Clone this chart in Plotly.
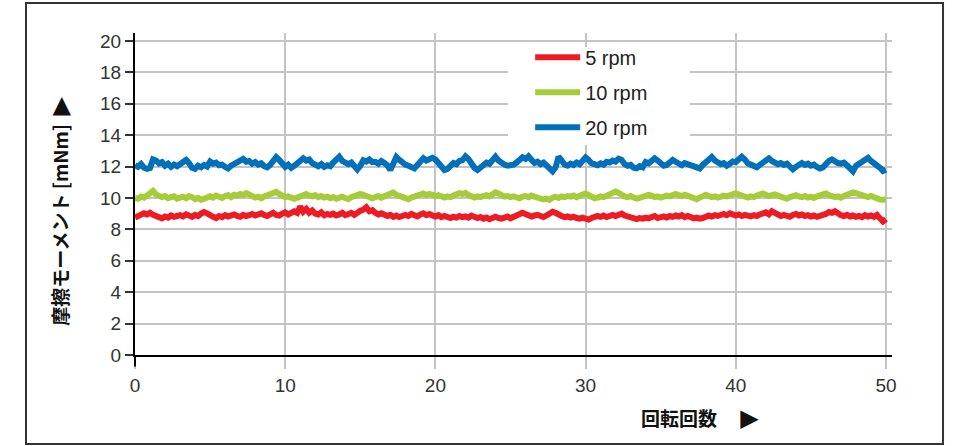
import numpy as np
import plotly.graph_objects as go

# Friction torque [mNm] sampled every 0.2 revolutions, 0 .. 50 rev
SAMPLE_STEP = 0.2

torque_5rpm = [
    8.75, 8.82, 8.90, 9.02, 8.95, 9.05, 8.92, 8.85, 8.78, 8.70,
    8.82, 8.75, 8.88, 8.80, 8.85, 8.90, 8.82, 8.95, 8.88, 8.80,
    8.92, 8.85, 9.00, 9.10, 9.02, 8.88, 8.80, 8.72, 8.85, 8.78,
    8.90, 8.82, 8.88, 8.95, 8.85, 8.80, 8.92, 8.85, 8.90, 8.98,
    8.88, 8.95, 9.02, 8.92, 8.85, 8.95, 9.05, 8.92, 8.88, 9.00,
    9.08, 8.95, 9.02, 9.15, 9.05, 9.45, 9.12, 9.30, 9.05, 9.20,
    9.00, 8.95, 9.08, 8.90, 8.98, 8.92, 9.00, 8.88, 8.95, 9.05,
    8.90, 8.98, 9.05, 8.92, 9.10, 9.18, 9.25, 9.40, 9.15, 9.22,
    9.05, 8.95, 9.02, 8.90, 8.85, 8.92, 8.80, 8.88, 8.78, 8.85,
    8.92, 8.85, 8.98, 8.90, 8.82, 8.95, 9.02, 8.90, 8.98, 8.88,
    8.82, 8.90, 8.78, 8.85, 8.80, 8.72, 8.80, 8.75, 8.85, 8.78,
    8.82, 8.75, 8.88, 8.80, 8.72, 8.78, 8.68, 8.75, 8.65, 8.72,
    8.80, 8.72, 8.68, 8.75, 8.82, 8.70, 8.78, 8.85, 8.95, 9.05,
    8.98, 8.90, 8.82, 8.88, 8.92, 8.85, 8.78, 8.88, 9.00, 9.12,
    9.05, 8.92, 8.85, 8.78, 8.82, 8.75, 8.80, 8.72, 8.68, 8.75,
    8.70, 8.62, 8.72, 8.78, 8.85, 8.80, 8.88, 8.78, 8.85, 8.92,
    8.85, 8.95, 9.00, 8.88, 8.82, 8.75, 8.70, 8.65, 8.72, 8.68,
    8.75, 8.70, 8.78, 8.85, 8.72, 8.78, 8.82, 8.75, 8.85, 8.80,
    8.88, 8.82, 8.90, 8.78, 8.85, 8.78, 8.70, 8.75, 8.68, 8.72,
    8.80, 8.88, 8.82, 8.90, 8.85, 8.92, 8.98, 8.90, 9.02, 8.95,
    8.88, 8.95, 8.85, 8.92, 8.88, 8.82, 8.90, 8.85, 8.95, 9.02,
    9.08, 8.95, 9.15, 9.05, 8.92, 8.85, 8.92, 8.88, 8.80, 8.92,
    8.98, 8.88, 8.95, 8.85, 8.90, 8.82, 8.88, 8.80, 8.85, 8.92,
    8.98, 9.10, 9.05, 9.15, 8.98, 8.90, 8.85, 8.92, 8.82, 8.88,
    8.80, 8.85, 8.78, 8.90, 8.82, 8.88, 8.80, 8.92, 8.70, 8.50,
    8.65,
]

torque_10rpm = [
    10.00, 9.95, 10.08, 10.02, 10.15, 10.35, 10.45, 10.22, 10.10, 10.05,
    10.12, 9.98, 10.05, 10.10, 9.95, 10.02, 10.08, 9.98, 10.12, 10.05,
    9.92, 10.00, 9.88, 9.95, 10.05, 10.10, 10.02, 10.15, 10.08, 10.00,
    10.12, 10.18, 10.05, 10.20, 10.15, 10.25, 10.18, 10.30, 10.22, 10.10,
    10.02, 10.08, 9.98, 10.10, 10.15, 10.22, 10.30, 10.38, 10.25, 10.12,
    10.05, 10.10, 9.98, 9.95, 10.02, 10.08, 10.18, 10.25, 10.15, 10.10,
    10.18, 10.05, 10.12, 10.02, 10.08, 9.98, 10.05, 9.95, 10.02, 10.08,
    10.00, 9.92, 10.05, 10.10, 10.18, 10.25, 10.20, 10.12, 10.05, 9.98,
    10.05, 10.12, 10.02, 10.10, 10.18, 10.28, 10.35, 10.20, 10.12, 10.05,
    9.98, 9.92, 10.02, 10.10, 10.15, 10.22, 10.28, 10.18, 10.25, 10.20,
    10.12, 10.18, 10.08, 10.02, 10.10, 10.05, 10.15, 10.22, 10.30, 10.25,
    10.32, 10.18, 10.08, 10.02, 10.10, 10.05, 10.12, 10.18, 10.10, 10.22,
    10.35, 10.28, 10.15, 10.08, 10.12, 10.05, 10.10, 10.02, 9.98, 10.08,
    10.12, 10.05, 10.15, 10.08, 10.02, 9.98, 9.90, 9.95, 9.88, 10.02,
    10.08, 10.00, 10.10, 10.05, 10.12, 10.08, 10.15, 10.05, 10.18, 10.22,
    10.28, 10.15, 10.05, 9.98, 10.02, 10.10, 10.05, 10.12, 10.20, 10.28,
    10.40, 10.32, 10.18, 10.10, 10.05, 10.12, 10.02, 9.95, 10.00, 10.08,
    10.12, 10.20, 10.15, 10.05, 10.10, 10.02, 10.08, 10.15, 10.10, 10.18,
    10.25, 10.18, 10.12, 10.20, 10.15, 10.05, 9.98, 9.92, 10.02, 10.12,
    10.20, 10.12, 10.05, 10.10, 10.02, 10.08, 10.15, 10.10, 10.18, 10.25,
    10.30, 10.22, 10.15, 10.05, 10.02, 10.10, 10.05, 10.15, 10.22, 10.28,
    10.20, 10.12, 10.18, 10.22, 10.15, 10.08, 9.98, 9.95, 10.05, 10.12,
    10.18, 10.10, 10.05, 10.12, 10.02, 10.08, 10.00, 10.10, 10.15, 10.22,
    10.28, 10.18, 10.12, 10.05, 10.10, 10.02, 10.12, 10.20, 10.25, 10.35,
    10.30, 10.22, 10.15, 10.10, 10.05, 10.12, 10.02, 9.95, 9.90, 9.88,
    9.90,
]

torque_20rpm = [
    12.10, 11.98, 12.15, 11.92, 11.85, 11.90, 12.45, 12.38, 12.20, 12.28,
    12.05, 12.18, 11.98, 12.12, 12.02, 12.15, 12.30, 12.42, 12.22, 11.92,
    11.85, 12.05, 11.95, 12.10, 12.00, 12.32, 12.18, 12.25, 12.08, 12.12,
    11.98, 11.88, 12.05, 12.15, 12.28, 12.40, 12.48, 12.30, 12.35, 12.18,
    12.28, 12.12, 12.20, 12.02, 11.95, 12.10, 12.35, 12.60, 12.42, 12.25,
    11.98, 12.12, 11.92, 12.05, 12.20, 12.32, 12.52, 12.38, 12.45, 12.22,
    12.10, 12.02, 12.15, 11.98, 12.08, 12.02, 12.25, 12.48, 12.62, 12.35,
    12.22, 12.15, 12.25, 11.95, 11.82, 12.05, 12.40, 12.32, 12.45, 12.28,
    12.30, 12.18, 12.35, 12.22, 12.08, 11.78, 12.25, 12.60, 12.42, 12.20,
    12.12, 12.05, 11.92, 11.88, 12.10, 12.30, 12.52, 12.38, 12.45, 12.55,
    12.45, 12.20, 12.02, 11.78, 11.85, 12.05, 12.22, 12.15, 12.35, 12.40,
    12.65, 12.48, 12.10, 11.92, 11.78, 11.95, 12.15, 12.25, 12.18, 12.40,
    12.62, 12.38, 12.20, 12.12, 12.05, 12.05, 12.12, 12.25, 12.40, 12.58,
    12.48, 12.65, 12.42, 12.22, 12.30, 12.15, 12.25, 12.08, 11.85, 11.70,
    11.95, 12.62, 12.40, 12.12, 12.05, 12.18, 12.10, 12.25, 12.15, 12.35,
    12.58, 12.42, 12.20, 12.15, 12.08, 12.20, 12.12, 12.30, 12.25, 12.38,
    12.32, 12.50, 12.42, 12.15, 12.05, 12.10, 11.92, 11.88, 12.02, 11.95,
    12.28, 12.20, 12.35, 12.52, 12.38, 12.15, 12.05, 12.10, 12.25, 12.42,
    12.30, 12.15, 12.08, 12.22, 12.15, 12.18, 12.05, 11.95, 11.88, 12.10,
    12.25, 12.48, 12.60, 12.38, 12.22, 12.15, 12.22, 12.05, 12.18, 12.32,
    12.28, 12.40, 12.62, 12.45, 12.20, 12.12, 12.05, 11.95, 12.10, 12.25,
    12.38, 12.52, 12.35, 12.28, 12.15, 12.22, 12.10, 12.18, 11.95, 11.82,
    11.98, 12.15, 12.22, 12.10, 12.18, 12.05, 12.12, 11.98, 11.88, 11.95,
    12.20, 12.35, 12.45, 12.30, 12.22, 12.18, 12.25, 12.08, 11.85, 11.70,
    12.05, 12.18, 12.30, 12.42, 12.55, 12.35, 12.22, 12.15, 11.92, 11.72,
    11.80,
]

series_names = ["5 rpm", "10 rpm", "20 rpm"]
series_colors = ["#ED1C24", "#A4CD39", "#0070BA"]
series_values = [torque_5rpm, torque_10rpm, torque_20rpm]

x_ticks = [0, 10, 20, 30, 40, 50]
y_ticks = [0, 2, 4, 6, 8, 10, 12, 14, 16, 18, 20]

revolutions = np.round(np.arange(len(torque_5rpm)) * SAMPLE_STEP, 1)

fig = go.Figure()
for i, (name, color, values) in enumerate(zip(series_names, series_colors, series_values)):
    fig.add_trace(go.Scatter(
        x=revolutions, y=values, mode="lines", name=name,
        legendgroup=f"g{i}",
        line=dict(color=color, width=6),
    ))

TICK_FONT = dict(family="Liberation Sans, Arial, sans-serif", size=19, color="#333333")
JP_FONT = "Noto Sans CJK JP, sans-serif"
ARROW = '<span style="font-family:DejaVu Sans;font-size:24px">▶</span>'

fig.update_layout(
    width=954, height=446,
    margin=dict(l=135, r=62, t=33, b=91),
    paper_bgcolor="white", plot_bgcolor="white",
    showlegend=True,
    legend=dict(
        x=0.522, y=0.985, xanchor="left", yanchor="top",
        bgcolor="rgba(0,0,0,0)", borderwidth=0,
        font=dict(family="Liberation Sans, Arial, sans-serif", size=20, color="#222222"),
        tracegroupgap=6, itemwidth=45,
    ),
    xaxis=dict(
        range=[0, 50.4], tickvals=x_ticks,
        showgrid=True, gridcolor="#c4c4c4", gridwidth=1.5,
        zeroline=False,
        showline=True, linecolor="#000000", linewidth=2,
        ticks="outside", ticklen=12, tickwidth=1.5, tickcolor="#c4c4c4",
        tickfont=TICK_FONT,
    ),
    yaxis=dict(
        range=[0, 20.5], tickvals=y_ticks,
        showgrid=True, gridcolor="#c4c4c4", gridwidth=1.5,
        zeroline=False,
        showline=True, linecolor="#000000", linewidth=2,
        ticks="outside", ticklen=8, tickwidth=1.5, tickcolor="#333333",
        tickfont=TICK_FONT,
    ),
    shapes=[
        # outer frame around the whole graphic
        dict(type="rect", xref="paper", yref="paper",
             x0=-0.144, x1=1.0674, y0=-0.2764, y1=1.0932,
             line=dict(color="#333333", width=2), fillcolor="rgba(0,0,0,0)"),
        # y axis line continuing below the origin
        dict(type="line", xref="paper", yref="paper",
             x0=0, x1=0, y0=0, y1=-0.036,
             line=dict(color="#000000", width=2)),
        # white panel behind the legend, hiding the grid
        dict(type="rect", xref="paper", yref="paper", layer="above",
             x0=0.4927, x1=0.7332, y0=0.652, y1=0.9565,
             line=dict(width=0), fillcolor="white"),
    ],
    annotations=[
        dict(text="<b>回転回数</b>　 " + ARROW, xref="paper", yref="paper",
             x=0.746, y=-0.196, xanchor="center", yanchor="middle",
             showarrow=False, font=dict(family=JP_FONT, size=19, color="#111111")),
        dict(text="<b>摩擦モーメント [mNm]</b>&nbsp;&nbsp;" + ARROW, xref="paper", yref="paper",
             x=-0.099, y=0.445, xanchor="center", yanchor="middle", textangle=-90,
             showarrow=False, font=dict(family=JP_FONT, size=19, color="#111111")),
    ],
)

fig.write_html("out.html")
